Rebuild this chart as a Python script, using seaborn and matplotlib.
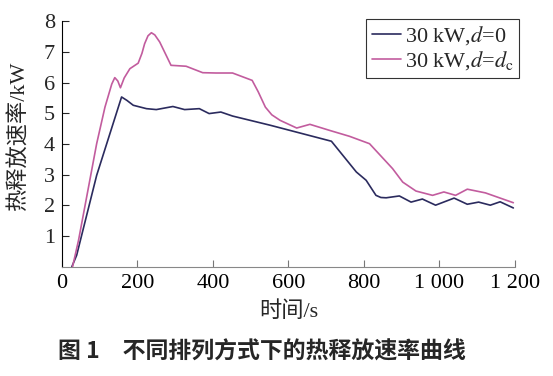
import numpy as np
import pandas as pd
import matplotlib
matplotlib.use("Agg")
import matplotlib.pyplot as plt
import seaborn as sns

# heat release rate, d = 0
t_d0 = [26, 39, 92, 158, 172, 189, 224, 250, 294, 325, 364, 390, 421, 452, 552, 714,
        780, 806, 832, 845, 859, 894, 925, 955, 990, 1039, 1074, 1104, 1135, 1161, 1196]
q_d0 = [0.0, 0.38, 2.98, 5.53, 5.42, 5.26, 5.15, 5.12, 5.22, 5.12, 5.15, 4.99, 5.04, 4.91, 4.61, 4.09,
        3.09, 2.82, 2.33, 2.26, 2.25, 2.31, 2.11, 2.21, 2.01, 2.24, 2.04, 2.11, 2.01, 2.12, 1.92]

# heat release rate, d = dc
t_dc = [28, 44, 92, 114, 132, 140, 148, 155, 165, 180, 202, 212, 219, 228, 237, 246, 259, 289,
        329, 373, 408, 452, 504, 520, 539, 556, 578, 622, 657, 710, 762, 815, 876, 903, 938,
        982, 1012, 1043, 1074, 1122, 1196]
q_dc = [0.0, 0.87, 4.01, 5.20, 5.95, 6.16, 6.05, 5.83, 6.15, 6.45, 6.63, 6.95, 7.26, 7.52, 7.62, 7.55,
        7.32, 6.56, 6.53, 6.32, 6.31, 6.31, 6.07, 5.70, 5.20, 4.95, 4.77, 4.52, 4.64, 4.44, 4.25, 4.01,
        3.20, 2.76, 2.47, 2.33, 2.44, 2.33, 2.53, 2.41, 2.09]

labels = ["30 kW,$d$=0", "30 kW,$d$=$d_\\mathrm{c}$"]
colors = ["#2b2b5e", "#c25c9e"]

df = pd.concat([
    pd.DataFrame({"t": t_d0, "q": q_d0, "case": labels[0]}),
    pd.DataFrame({"t": t_dc, "q": q_dc, "case": labels[1]}),
])

sns.set_style("ticks")
plt.rcParams["font.family"] = ["Liberation Serif", "Noto Sans CJK SC"]
plt.rcParams["mathtext.fontset"] = "stix"

fig = plt.figure(figsize=(5.53, 3.76), dpi=100)
ax = fig.add_axes([0.112, 0.290, 0.819, 0.654])

sns.lineplot(data=df, x="t", y="q", hue="case", palette=colors, ax=ax,
             linewidth=1.2, sort=False)

ax.set_xlim(0, 1200)
ax.set_ylim(0, 8)
ax.set_xticks(range(0, 1201, 200))
ax.set_xticklabels(["0", "200", "400", "600", "800", "1 000", "1 200"])
ax.set_yticks(range(1, 9))
ax.tick_params(direction="in", labelsize=16, length=5, width=0.8, pad=5)
ax.tick_params(axis="x", colors="#777777", labelcolor="black")
ax.spines["right"].set_visible(False)
ax.spines["top"].set_visible(False)
ax.spines["bottom"].set_color("#888888")
ax.spines["left"].set_color("black")

ax.set_xlabel("时间/s", fontsize=16, labelpad=6)
ax.set_ylabel("热释放速率/kW", fontsize=16)
ax.yaxis.set_label_coords(-0.072, 0.53)

leg = ax.legend(loc="upper right", bbox_to_anchor=(1.01, 1.01), fontsize=16, frameon=True,
                fancybox=False, edgecolor="black", handlelength=1.3, handletextpad=0.2,
                borderpad=0.25, labelspacing=0.1, borderaxespad=0.0, title=None)
leg.get_frame().set_linewidth(0.8)

fig.text(0.473, 0.064, "图 1　不同排列方式下的热释放速率曲线", ha="center", va="center",
         fontsize=16.5, fontweight="bold", family=["Noto Sans CJK SC", "DejaVu Sans"])

fig.savefig("out.png", dpi=100)
